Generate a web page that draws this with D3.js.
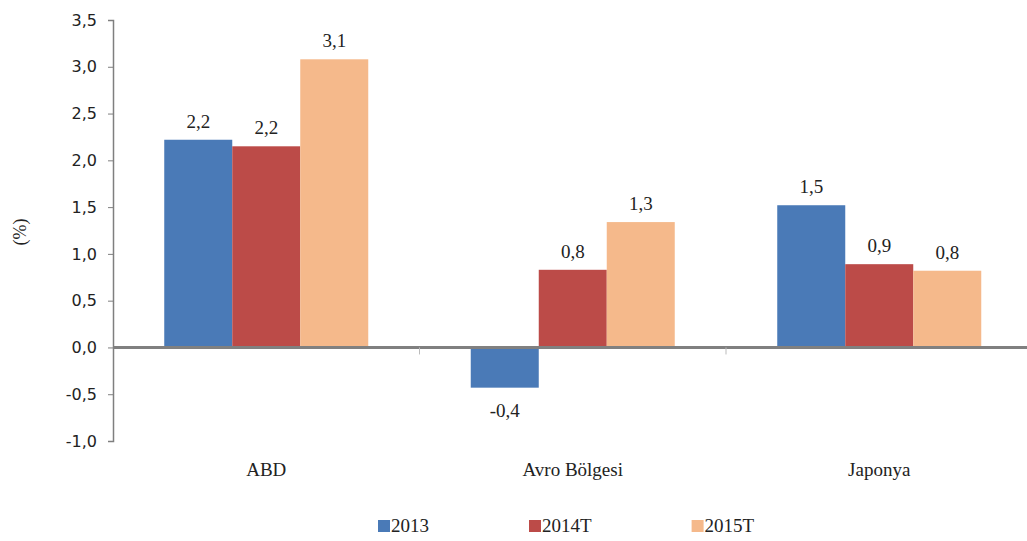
<!DOCTYPE html>
<html><head><meta charset="utf-8">
<script src="https://cdn.jsdelivr.net/npm/d3@7"></script>
<style>body{margin:0;background:#fff}svg{display:block}text{fill:#222}.sf{font-family:"Liberation Serif","DejaVu Serif",serif}</style>
</head><body>
<svg id="c" width="1027" height="541"></svg>
<script>
const categories = ["ABD", "Avro Bölgesi", "Japonya"];
const seriesNames = ["2013", "2014T", "2015T"];
const values2013 = [2.22, -0.43, 1.52];
const values2014T = [2.15, 0.83, 0.89];
const values2015T = [3.08, 1.34, 0.82];
const labels2013 = ["2,2", "-0,4", "1,5"];
const labels2014T = ["2,2", "0,8", "0,9"];
const labels2015T = ["3,1", "1,3", "0,8"];
const yTicks = [-1.0, -0.5, 0.0, 0.5, 1.0, 1.5, 2.0, 2.5, 3.0, 3.5];
const colors = ["#4a7ab7", "#bc4b48", "#f5b98b"];

const series = [values2013, values2014T, values2015T];
const labels = [labels2013, labels2014T, labels2015T];
const SERIF = '"Liberation Serif", "DejaVu Serif", serif';

const svg = d3.select("#c");
const x0 = d3.scaleBand().domain(categories).range([113, 1032.5]).paddingInner(1 - 204/306.5).paddingOuter((1 - 204/306.5)/2);
const x1 = d3.scaleBand().domain(seriesNames).range([0, x0.bandwidth()]);
const y = d3.scaleLinear().domain([-1, 3.5]).range([441, 20]);

// bars
const g = svg.append("g");
categories.forEach((c, ci) => {
  seriesNames.forEach((s, si) => {
    const v = series[si][ci];
    const xx = x0(c) + x1(s);
    g.append("rect").attr("x", xx).attr("width", x1.bandwidth())
      .attr("y", y(Math.max(0, v))).attr("height", Math.abs(y(v) - y(0)))
      .attr("fill", colors[si]);
    g.append("text").attr("x", xx + x1.bandwidth()/2)
      .attr("y", v >= 0 ? y(v) - 12 : y(v) + 29)
      .attr("text-anchor", "middle").style("font-family", SERIF).style("font-size", "19px")
      .text(labels[si][ci]);
  });
});

// y axis
const yAxis = d3.axisLeft(y).tickValues(yTicks).tickSize(5).tickPadding(11)
  .tickFormat(d => d3.format(".1f")(d).replace(".", ",").replace("−", "-"));
const ya = svg.append("g").attr("transform", "translate(113,0)").call(yAxis);
ya.select(".domain").attr("stroke", "#7f7f7f").attr("stroke-width", 1.5);
ya.selectAll(".tick line").attr("stroke", "#7f7f7f");
ya.selectAll(".tick text").attr("fill", "#222")
  .style("font-family", '"DejaVu Sans", sans-serif').style("font-size", "16px");

// zero line with category ticks
const xa = svg.append("g").attr("transform", `translate(0,${y(0)})`);
xa.append("line").attr("x1", 113).attr("x2", 1027).attr("stroke", "#808080").attr("stroke-width", 3);
categories.slice(1).forEach(c => {
  const bx = x0(c) - x0.step()*x0.paddingInner()/2 ;
  xa.append("line").attr("x1", bx).attr("x2", bx).attr("y1", 0).attr("y2", 7).attr("stroke", "#bbb").attr("stroke-width", 1);
});

// category labels
categories.forEach(c => {
  svg.append("text").attr("x", x0(c) + x0.bandwidth()/2).attr("y", 476)
    .attr("text-anchor", "middle").style("font-family", SERIF).style("font-size", "19px").text(c);
});

// y title
svg.append("text").attr("transform", "translate(26,232) rotate(-90)")
  .attr("text-anchor", "middle").style("font-family", SERIF).style("font-size", "18px").text("(%)");

// legend
let lx = 378;
seriesNames.forEach((s, i) => {
  svg.append("rect").attr("x", lx).attr("y", 520).attr("width", 12).attr("height", 12).attr("fill", colors[i]);
  const t = svg.append("text").attr("x", lx + 13).attr("y", 532).style("font-family", SERIF).style("font-size", "19px").text(s);
  lx = lx + 13 + t.node().getComputedTextLength() + 100;
});
</script>
</body></html>
